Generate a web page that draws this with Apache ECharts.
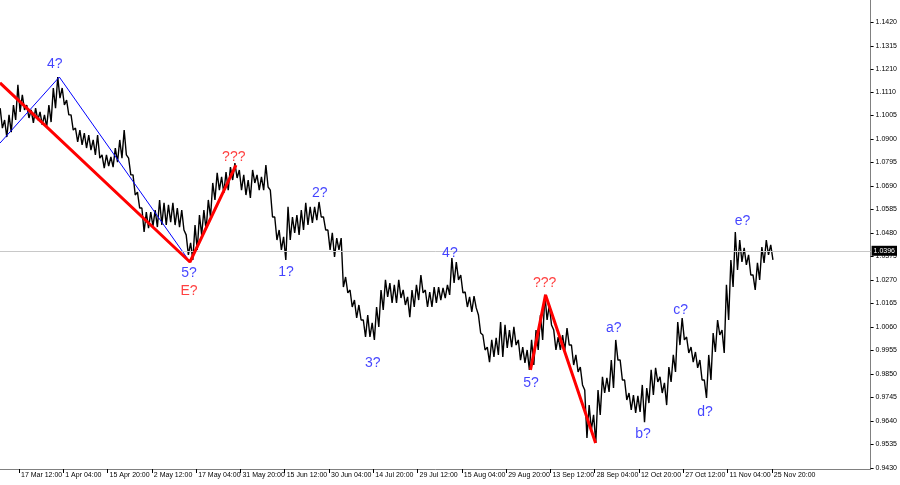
<!DOCTYPE html>
<html><head><meta charset="utf-8">
<script src="https://cdn.jsdelivr.net/npm/echarts@6/dist/echarts.min.js"></script>
<style>html,body{margin:0;padding:0;background:#fff}#c{width:900px;height:485px}</style>
</head><body><div id="c"></div>
<script>
// Bar index of the first sample (every 10 samples = one time label)
const firstIndex = 6;
const highs = [1.1037,1.0984,1.1007,1.1051,1.1141,1.1096,1.1051,1.1029,1.1037,1.1020,1.1007,1.1051,1.1127,1.1176,1.1127,1.1073,1.1007,1.0948,1.0939,1.0926,1.0917,1.0895,1.0917,1.0828,1.0828,1.0819,1.0859,1.0895,1.0939,1.0814,1.0739,1.0662,1.0591,1.0573,1.0573,1.0582,1.0627,1.0614,1.0605,1.0614,1.0591,1.0582,1.0471,1.0435,1.0515,1.0560,1.0582,1.0627,1.0703,1.0748,1.0730,1.0752,1.0774,1.0792,1.0761,1.0739,1.0716,1.0761,1.0739,1.0730,1.0783,1.0671,1.0551,1.0493,1.0462,1.0596,1.0551,1.0560,1.0582,1.0614,1.0596,1.0596,1.0618,1.0551,1.0493,1.0480,1.0457,1.0457,1.0283,1.0225,1.0180,1.0158,1.0091,1.0113,1.0078,1.0149,1.0225,1.0270,1.0256,1.0248,1.0270,1.0225,1.0194,1.0225,1.0248,1.0292,1.0225,1.0216,1.0238,1.0238,1.0234,1.0248,1.0368,1.0350,1.0292,1.0216,1.0194,1.0198,1.0113,1.0024,0.9970,1.0002,1.0011,1.0082,1.0069,1.0046,1.0060,1.0002,0.9970,0.9957,1.0002,1.0046,1.0113,1.0203,1.0158,1.0046,1.0015,1.0024,1.0055,0.9979,0.9935,0.9881,0.9778,0.9711,0.9667,0.9778,0.9837,0.9832,0.9912,1.0002,0.9912,0.9823,0.9765,0.9756,0.9752,0.9801,0.9787,0.9868,0.9877,0.9837,0.9810,0.9881,0.9935,1.0082,1.0100,1.0015,0.9970,0.9948,0.9912,0.9823,0.9935,1.0033,1.0091,1.0046,1.0248,1.0359,1.0484,1.0448,1.0413,1.0382,1.0292,1.0346,1.0417,1.0448,1.0426];
const lows = [1.0948,1.0908,1.0930,1.0984,1.1020,1.1029,1.0993,1.0971,1.0984,1.0962,1.0953,1.0975,1.1037,1.1082,1.1051,1.1007,1.0939,1.0886,1.0873,1.0859,1.0850,1.0828,1.0814,1.0769,1.0778,1.0774,1.0796,1.0814,1.0828,1.0739,1.0649,1.0591,1.0484,1.0501,1.0510,1.0506,1.0515,1.0515,1.0528,1.0515,1.0506,1.0493,1.0382,1.0359,1.0404,1.0471,1.0493,1.0551,1.0627,1.0671,1.0658,1.0671,1.0716,1.0725,1.0671,1.0649,1.0636,1.0703,1.0671,1.0671,1.0685,1.0551,1.0448,1.0404,1.0359,1.0448,1.0480,1.0471,1.0493,1.0515,1.0524,1.0537,1.0551,1.0493,1.0404,1.0373,1.0404,1.0238,1.0212,1.0149,1.0100,1.0091,1.0015,1.0015,1.0002,1.0060,1.0136,1.0194,1.0167,1.0167,1.0189,1.0158,1.0104,1.0149,1.0180,1.0212,1.0149,1.0149,1.0167,1.0180,1.0189,1.0203,1.0256,1.0270,1.0212,1.0149,1.0127,1.0145,1.0033,0.9957,0.9903,0.9926,0.9935,0.9926,0.9966,0.9970,0.9979,0.9912,0.9899,0.9868,0.9890,0.9957,1.0002,1.0091,1.0069,0.9957,0.9957,0.9957,0.9979,0.9890,0.9859,0.9801,0.9564,0.9600,0.9542,0.9667,0.9765,0.9770,0.9787,0.9912,0.9823,0.9734,0.9689,0.9676,0.9680,0.9635,0.9720,0.9756,0.9814,0.9765,0.9711,0.9814,0.9859,0.9979,1.0002,0.9944,0.9903,0.9877,0.9823,0.9743,0.9823,0.9948,1.0024,0.9944,1.0091,1.0238,1.0314,1.0350,1.0337,1.0292,1.0225,1.0270,1.0346,1.0382,1.0359];
const xTickIndex = [0,10,20,30,40,50,60,70,80,90,100,110,120,130,140,150,160,170,180];
const xTickLabels = ['3 Mar 20:00','17 Mar 12:00','1 Apr 04:00','15 Apr 20:00','2 May 12:00','17 May 04:00','31 May 20:00','15 Jun 12:00','30 Jun 04:00','14 Jul 20:00','29 Jul 12:00','15 Aug 04:00','29 Aug 20:00','13 Sep 12:00','28 Sep 04:00','12 Oct 20:00','27 Oct 12:00','11 Nov 04:00','25 Nov 20:00'];
const yTicks = [0.9430,0.9535,0.9640,0.9745,0.9850,0.9955,1.0060,1.0165,1.0270,1.0375,1.0480,1.0585,1.0690,1.0795,1.0900,1.1005,1.1110,1.1210,1.1315,1.1420];
const currentPrice = 1.0396;
const blueWave = [[5.71,1.0881],[19.1,1.1176],[48.6,1.0350]];
const redWaveA = [[5.71,1.1150],[48.6,1.0350],[59.0,1.0783]];
const redWaveB = [[125.5,0.9868],[128.9,1.0203],[140.2,0.9542]];
const blueLabels = [['4?',18.1,1.1234],['5?',48.4,1.0301],['1?',70.3,1.0305],['2?',77.9,1.0658],['3?',89.9,0.9899],['4?',107.3,1.0390],['5?',125.6,0.9809],['a?',144.3,1.0055],['b?',150.9,0.9582],['c?',159.4,1.0136],['d?',164.9,0.9680],['e?',173.4,1.0533]];
const redLabels = [['???',58.5,1.0819],['E?',48.4,1.0220],['???',128.7,1.0256]];

const priceData = [];
highs.forEach((h, k) => {
  const i = firstIndex + k;
  priceData.push([i - 0.25, h], [i + 0.25, lows[k]]);
});
const FONT = 'Liberation Sans, Arial, sans-serif';
function labelSeries(list, color) {
  return {
    type: 'scatter', symbol: 'circle', symbolSize: 1, z: 10,
    itemStyle: {color: 'rgba(0,0,0,0)'},
    data: list.map(d => ({name: d[0], value: [d[1], d[2]]})),
    label: {show: true, position: 'inside', formatter: p => p.name, color: color, fontSize: 14, fontFamily: FONT},
    silent: true
  };
}
const chart = echarts.init(document.getElementById('c'), null, {renderer: 'canvas'});
chart.setOption({
  animation: false,
  backgroundColor: '#ffffff',
  grid: {left: 0, right: 29, top: 0, bottom: 16, containLabel: false},
  xAxis: {
    type: 'value', min: 5.71, max: 202.3,
    splitLine: {show: false},
    axisLine: {show: true, lineStyle: {color: '#808080', width: 1}},
    axisTick: {show: true, customValues: xTickIndex, length: 4, lineStyle: {color: '#000'}},
    axisLabel: {customValues: xTickIndex, formatter: v => xTickLabels[Math.round(v / 10)], align: 'left', padding: [0, 0, 0, 2], margin: 3, fontSize: 7, color: '#000', fontFamily: FONT}
  },
  yAxis: {
    type: 'value', position: 'right', min: 0.94255, max: 1.1520, scale: true,
    splitLine: {show: false},
    axisLine: {show: true, lineStyle: {color: '#808080', width: 1}},
    axisTick: {show: true, customValues: yTicks, length: 3, lineStyle: {color: '#000'}},
    axisLabel: {customValues: yTicks, formatter: v => v.toFixed(4), margin: 5, fontSize: 7, color: '#000', fontFamily: FONT}
  },
  series: [
    {
      type: 'line', data: [], z: 1,
      markLine: {
        silent: true, symbol: 'none',
        lineStyle: {color: '#c8c8c8', type: 'solid', width: 1},
        label: {show: true, position: 'end', distance: 1, formatter: () => currentPrice.toFixed(4), backgroundColor: '#000', color: '#fff', padding: [2, 2, 1, 2], fontSize: 7, fontFamily: FONT},
        data: [{yAxis: currentPrice}]
      }
    },
    {type: 'line', data: priceData, symbol: 'none', z: 3, lineStyle: {color: '#000', width: 1.4}},
    {type: 'line', data: blueWave, symbol: 'none', z: 4, lineStyle: {color: '#0000ff', width: 1}},
    {type: 'line', data: redWaveA, symbol: 'none', z: 5, lineStyle: {color: '#ff0000', width: 3}},
    {type: 'line', data: redWaveB, symbol: 'none', z: 5, lineStyle: {color: '#ff0000', width: 3}},
    labelSeries(blueLabels, '#1414ff'),
    labelSeries(redLabels, '#ff1010')
  ]
});
</script></body></html>
